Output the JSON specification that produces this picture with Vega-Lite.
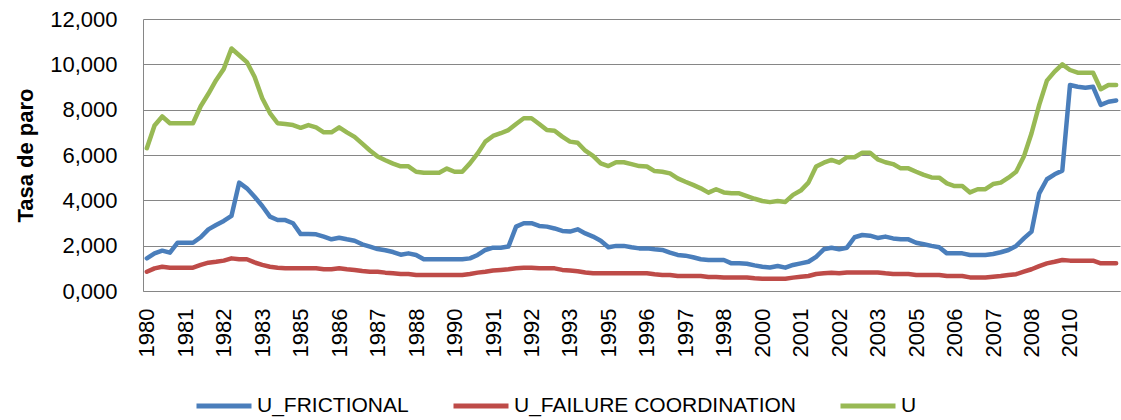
{
"$schema": "https://vega.github.io/schema/vega-lite/v6.json",
"width": 977, "height": 272,
"autosize": {"type": "none"},
"padding": {"left": 143, "top": 19, "right": 1, "bottom": 129},
"background": "white",
"config": {"view": {"stroke": null}, "font": "Liberation Sans"},
"data": {"values": [
{"t":"1980-1","f":1.44,"c":0.85,"u":6.3},
{"t":"1980-2","f":1.66,"c":1.0,"u":7.3},
{"t":"1980-3","f":1.78,"c":1.07,"u":7.7},
{"t":"1980-4","f":1.69,"c":1.03,"u":7.4},
{"t":"1981-1","f":2.13,"c":1.03,"u":7.4},
{"t":"1981-2","f":2.13,"c":1.03,"u":7.4},
{"t":"1981-3","f":2.13,"c":1.03,"u":7.4},
{"t":"1981-4","f":2.37,"c":1.15,"u":8.15},
{"t":"1982-1","f":2.72,"c":1.25,"u":8.7},
{"t":"1982-2","f":2.91,"c":1.29,"u":9.3},
{"t":"1982-3","f":3.09,"c":1.34,"u":9.8},
{"t":"1982-4","f":3.31,"c":1.44,"u":10.7},
{"t":"1983-1","f":4.78,"c":1.4,"u":10.4},
{"t":"1983-2","f":4.53,"c":1.4,"u":10.1},
{"t":"1983-3","f":4.16,"c":1.26,"u":9.45},
{"t":"1983-4","f":3.75,"c":1.15,"u":8.5},
{"t":"1984-1","f":3.28,"c":1.07,"u":7.85},
{"t":"1984-2","f":3.13,"c":1.03,"u":7.4},
{"t":"1984-3","f":3.13,"c":1.0,"u":7.37},
{"t":"1984-4","f":2.99,"c":1.0,"u":7.32},
{"t":"1985-1","f":2.51,"c":1.0,"u":7.2},
{"t":"1985-2","f":2.51,"c":1.0,"u":7.32},
{"t":"1985-3","f":2.5,"c":1.0,"u":7.22},
{"t":"1985-4","f":2.4,"c":0.96,"u":7.0},
{"t":"1986-1","f":2.28,"c":0.96,"u":7.0},
{"t":"1986-2","f":2.35,"c":1.0,"u":7.22},
{"t":"1986-3","f":2.28,"c":0.96,"u":7.0},
{"t":"1986-4","f":2.22,"c":0.93,"u":6.8},
{"t":"1987-1","f":2.06,"c":0.88,"u":6.5},
{"t":"1987-2","f":1.96,"c":0.85,"u":6.2},
{"t":"1987-3","f":1.85,"c":0.85,"u":5.93},
{"t":"1987-4","f":1.8,"c":0.81,"u":5.77},
{"t":"1988-1","f":1.72,"c":0.78,"u":5.62},
{"t":"1988-2","f":1.6,"c":0.75,"u":5.5},
{"t":"1988-3","f":1.66,"c":0.75,"u":5.5},
{"t":"1988-4","f":1.59,"c":0.71,"u":5.26},
{"t":"1989-1","f":1.4,"c":0.71,"u":5.22},
{"t":"1989-2","f":1.4,"c":0.71,"u":5.22},
{"t":"1989-3","f":1.4,"c":0.71,"u":5.22},
{"t":"1989-4","f":1.4,"c":0.71,"u":5.4},
{"t":"1990-1","f":1.4,"c":0.71,"u":5.26},
{"t":"1990-2","f":1.4,"c":0.71,"u":5.26},
{"t":"1990-3","f":1.44,"c":0.75,"u":5.63},
{"t":"1990-4","f":1.59,"c":0.81,"u":6.07},
{"t":"1991-1","f":1.81,"c":0.85,"u":6.59},
{"t":"1991-2","f":1.91,"c":0.9,"u":6.84},
{"t":"1991-3","f":1.91,"c":0.93,"u":6.96},
{"t":"1991-4","f":1.96,"c":0.96,"u":7.1},
{"t":"1992-1","f":2.84,"c":1.0,"u":7.37},
{"t":"1992-2","f":2.99,"c":1.03,"u":7.62},
{"t":"1992-3","f":2.99,"c":1.03,"u":7.62},
{"t":"1992-4","f":2.87,"c":1.0,"u":7.37},
{"t":"1993-1","f":2.84,"c":1.0,"u":7.1},
{"t":"1993-2","f":2.76,"c":1.0,"u":7.07},
{"t":"1993-3","f":2.65,"c":0.93,"u":6.81},
{"t":"1993-4","f":2.62,"c":0.9,"u":6.59},
{"t":"1994-1","f":2.72,"c":0.87,"u":6.54},
{"t":"1994-2","f":2.54,"c":0.82,"u":6.19},
{"t":"1994-3","f":2.4,"c":0.78,"u":5.96},
{"t":"1994-4","f":2.22,"c":0.78,"u":5.63},
{"t":"1995-1","f":1.93,"c":0.78,"u":5.51},
{"t":"1995-2","f":1.99,"c":0.78,"u":5.68},
{"t":"1995-3","f":1.99,"c":0.78,"u":5.68},
{"t":"1995-4","f":1.93,"c":0.78,"u":5.6},
{"t":"1996-1","f":1.88,"c":0.78,"u":5.51},
{"t":"1996-2","f":1.88,"c":0.78,"u":5.49},
{"t":"1996-3","f":1.84,"c":0.74,"u":5.29},
{"t":"1996-4","f":1.81,"c":0.71,"u":5.26},
{"t":"1997-1","f":1.69,"c":0.71,"u":5.19},
{"t":"1997-2","f":1.59,"c":0.66,"u":4.97},
{"t":"1997-3","f":1.56,"c":0.66,"u":4.82},
{"t":"1997-4","f":1.49,"c":0.66,"u":4.68},
{"t":"1998-1","f":1.4,"c":0.66,"u":4.53},
{"t":"1998-2","f":1.37,"c":0.62,"u":4.34},
{"t":"1998-3","f":1.37,"c":0.62,"u":4.49},
{"t":"1998-4","f":1.37,"c":0.6,"u":4.35},
{"t":"1999-1","f":1.22,"c":0.6,"u":4.31},
{"t":"1999-2","f":1.22,"c":0.6,"u":4.31},
{"t":"1999-3","f":1.2,"c":0.6,"u":4.19},
{"t":"1999-4","f":1.13,"c":0.56,"u":4.07},
{"t":"2000-1","f":1.07,"c":0.54,"u":3.97},
{"t":"2000-2","f":1.04,"c":0.54,"u":3.92},
{"t":"2000-3","f":1.1,"c":0.54,"u":3.97},
{"t":"2000-4","f":1.03,"c":0.54,"u":3.93},
{"t":"2001-1","f":1.15,"c":0.59,"u":4.24},
{"t":"2001-2","f":1.22,"c":0.63,"u":4.43},
{"t":"2001-3","f":1.29,"c":0.66,"u":4.78},
{"t":"2001-4","f":1.51,"c":0.75,"u":5.49},
{"t":"2002-1","f":1.84,"c":0.78,"u":5.66},
{"t":"2002-2","f":1.91,"c":0.81,"u":5.78},
{"t":"2002-3","f":1.84,"c":0.78,"u":5.66},
{"t":"2002-4","f":1.91,"c":0.82,"u":5.9},
{"t":"2003-1","f":2.37,"c":0.82,"u":5.9},
{"t":"2003-2","f":2.47,"c":0.82,"u":6.1},
{"t":"2003-3","f":2.44,"c":0.82,"u":6.1},
{"t":"2003-4","f":2.34,"c":0.82,"u":5.81},
{"t":"2004-1","f":2.4,"c":0.78,"u":5.68},
{"t":"2004-2","f":2.32,"c":0.75,"u":5.6},
{"t":"2004-3","f":2.28,"c":0.75,"u":5.41},
{"t":"2004-4","f":2.28,"c":0.75,"u":5.41},
{"t":"2005-1","f":2.13,"c":0.71,"u":5.26},
{"t":"2005-2","f":2.06,"c":0.71,"u":5.12},
{"t":"2005-3","f":1.99,"c":0.71,"u":5.01},
{"t":"2005-4","f":1.93,"c":0.71,"u":5.0},
{"t":"2006-1","f":1.66,"c":0.66,"u":4.75},
{"t":"2006-2","f":1.66,"c":0.66,"u":4.63},
{"t":"2006-3","f":1.66,"c":0.66,"u":4.63},
{"t":"2006-4","f":1.59,"c":0.6,"u":4.35},
{"t":"2007-1","f":1.59,"c":0.6,"u":4.49},
{"t":"2007-2","f":1.59,"c":0.6,"u":4.49},
{"t":"2007-3","f":1.63,"c":0.63,"u":4.72},
{"t":"2007-4","f":1.71,"c":0.66,"u":4.78},
{"t":"2008-1","f":1.81,"c":0.71,"u":5.0},
{"t":"2008-2","f":1.99,"c":0.74,"u":5.26},
{"t":"2008-3","f":2.32,"c":0.85,"u":5.93},
{"t":"2008-4","f":2.62,"c":0.96,"u":6.96},
{"t":"2009-1","f":4.31,"c":1.1,"u":8.21},
{"t":"2009-2","f":4.93,"c":1.22,"u":9.28},
{"t":"2009-3","f":5.15,"c":1.29,"u":9.68},
{"t":"2009-4","f":5.31,"c":1.37,"u":10.0},
{"t":"2010-1","f":9.09,"c":1.34,"u":9.75},
{"t":"2010-2","f":9.01,"c":1.34,"u":9.63},
{"t":"2010-3","f":8.97,"c":1.34,"u":9.63},
{"t":"2010-4","f":9.01,"c":1.34,"u":9.63},
{"t":"2011-1","f":8.21,"c":1.22,"u":8.9},
{"t":"2011-2","f":8.35,"c":1.22,"u":9.09},
{"t":"2011-3","f":8.4,"c":1.22,"u":9.09}
]},
"transform": [{"fold": ["f", "c", "u"], "as": ["serie", "v"]}],
"mark": {"type": "line", "strokeWidth": 4.5, "strokeJoin": "round", "strokeCap": "round"},
"encoding": {
  "x": {"field": "t", "type": "ordinal", "scale": {"type": "point", "padding": 0.5},
    "axis": {"values": ["1980-1","1981-2","1982-3","1983-4","1985-1","1986-2","1987-3","1988-4","1990-1","1991-2","1992-3","1993-4","1995-1","1996-2","1997-3","1998-4","2000-1","2001-2","2002-3","2003-4","2005-1","2006-2","2007-3","2008-4","2010-1"],
      "labelExpr": "slice(datum.value,0,4)", "labelAngle": 270, "labelAlign": "right", "labelBaseline": "middle",
      "labelPadding": 17, "ticks": false, "grid": false, "domainColor": "#868686", "domainWidth": 1,
      "labelFontSize": 22, "labelColor": "#000000", "labelOverlap": false, "labelBound": false, "title": null}},
  "y": {"field": "v", "type": "quantitative", "scale": {"domain": [0, 12], "nice": false},
    "axis": {"values": [0, 2, 4, 6, 8, 10, 12], "labelExpr": "replace(format(datum.value,'.3f'),'.',',')",
      "labelFontSize": 22, "labelPadding": 26, "ticks": false, "grid": true, "gridColor": "#868686", "gridWidth": 1,
      "domainColor": "#868686", "labelColor": "#000000", "title": "Tasa de paro", "titleFontSize": 22,
      "titleFontWeight": "bold", "titleColor": "#000000", "titleX": -118, "titleY": 136, "titleAngle": 270,
      "titleAlign": "center", "titleBaseline": "middle"}},
  "color": {"field": "serie", "type": "nominal",
    "scale": {"domain": ["f", "c", "u"], "range": ["#4A7EBB", "#BE4B48", "#98B954"]},
    "legend": {"orient": "none", "legendX": 51, "legendY": 357, "direction": "horizontal", "title": null,
      "symbolType": "stroke", "symbolSize": 3025, "symbolStrokeWidth": 5, "labelFontSize": 21, "labelOffset": 3,
      "columnPadding": 34, "labelColor": "#000000", "labelLimit": 0,
      "labelExpr": "datum.label == 'f' ? 'U_FRICTIONAL' : datum.label == 'c' ? 'U_FAILURE COORDINATION' : 'U'"}}
}
}
